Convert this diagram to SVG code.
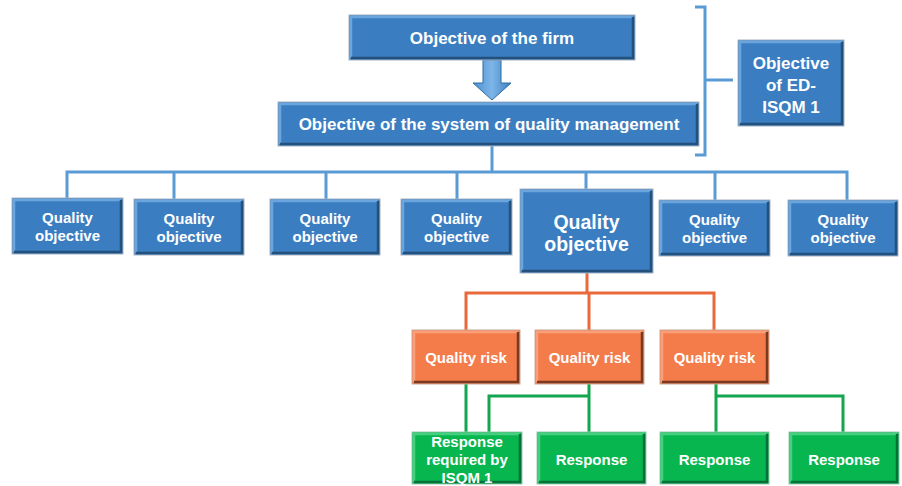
<svg xmlns="http://www.w3.org/2000/svg" width="902" height="486" viewBox="0 0 902 486">
<defs>
<linearGradient id="ag" x1="0" y1="0" x2="1" y2="0">
<stop offset="0" stop-color="#4F90D0"/><stop offset="0.5" stop-color="#7DB6E8"/><stop offset="1" stop-color="#3F80C2"/>
</linearGradient>
</defs>
<style>
text{font-family:"Liberation Sans",Arial,sans-serif;font-weight:bold;fill:#fff;text-anchor:middle}
.bl .f{fill:#3A7EC1;stroke:#A9B4BF;stroke-width:1}
.bl .hi{stroke:#6AA5DD}
.bl .sh{stroke:#24507D}
.or .f{fill:#F47B4A;stroke:#C9A999;stroke-width:1}
.or .hi{stroke:#F9A07A}
.or .sh{stroke:#7A3A22}
.gr .f{fill:#08B650;stroke:#9CC9AE;stroke-width:1}
.gr .hi{stroke:#45D07F}
.gr .sh{stroke:#05703A}
.hi,.sh{fill:none;stroke-width:2.5}
.cb{fill:none;stroke:#5B9BD5;stroke-width:3}
.co{fill:none;stroke:#E9693B;stroke-width:3}
.cg{fill:none;stroke:#14A64E;stroke-width:3}
.t17{font-size:17px}.t15{font-size:15px}.t19{font-size:19.5px}
</style>
<g id="connectors">
<path class="cb" d="M492,146V172M67,198V172H847V200M174,172V199M326,172V199M457,172V199M586,172V189M715,172V200"/>
<path class="cb" d="M695,7H705V155H695M705,80H733" stroke-width="3.5"/>
<polygon points="483,60 501,60 501,83 511,83 492,100 473,83 483,83" fill="url(#ag)" stroke="#2E6DA4" stroke-width="1"/>
<path class="co" d="M587,273V293M466,330V293H714V330M589,293V330"/>
<path class="cg" d="M466,384V432M589,384V432M589,396H489V432M716,384V432M716,396H843V432"/>
</g>
<g id="firm" class="bl"><rect class="f" x="349" y="15" width="286" height="45"/><path class="hi" d="M351,58V17H633"/><path class="sh" d="M351,58H633V17"/><text class="t17" x="492" y="43.5">Objective of the firm</text></g>
<g id="sqm" class="bl"><rect class="f" x="278" y="102" width="421" height="44"/><path class="hi" d="M280,144V104H697"/><path class="sh" d="M280,144H697V104"/><text class="t17" x="489" y="130">Objective of the system of quality management</text></g>
<g id="ed" class="bl"><rect class="f" x="738" y="40" width="106" height="86"/><path class="hi" d="M740,124V42H842"/><path class="sh" d="M740,124H842V42"/><text class="t17" x="791" y="69">Objective</text><text class="t17" x="791" y="91">of ED-</text><text class="t17" x="791" y="113">ISQM 1</text></g>
<g id="qo1" class="bl"><rect class="f" x="12" y="198" width="111" height="56"/><path class="hi" d="M14,252V200H121"/><path class="sh" d="M14,252H121V200"/><text class="t15" x="67.5" y="223">Quality</text><text class="t15" x="67.5" y="241">objective</text></g>
<g id="qo2" class="bl"><rect class="f" x="134" y="199" width="110" height="56"/><path class="hi" d="M136,253V201H242"/><path class="sh" d="M136,253H242V201"/><text class="t15" x="189" y="224">Quality</text><text class="t15" x="189" y="242">objective</text></g>
<g id="qo3" class="bl"><rect class="f" x="270" y="199" width="110" height="56"/><path class="hi" d="M272,253V201H378"/><path class="sh" d="M272,253H378V201"/><text class="t15" x="325" y="224">Quality</text><text class="t15" x="325" y="242">objective</text></g>
<g id="qo4" class="bl"><rect class="f" x="401" y="199" width="111" height="56"/><path class="hi" d="M403,253V201H510"/><path class="sh" d="M403,253H510V201"/><text class="t15" x="456.5" y="224">Quality</text><text class="t15" x="456.5" y="242">objective</text></g>
<g id="qo5" class="bl"><rect class="f" x="520" y="189" width="133" height="84"/><path class="hi" d="M522,271V191H651"/><path class="sh" d="M522,271H651V191"/><text class="t19" x="586.5" y="229">Quality</text><text class="t19" x="586.5" y="251">objective</text></g>
<g id="qo6" class="bl"><rect class="f" x="659" y="200" width="111" height="56"/><path class="hi" d="M661,254V202H768"/><path class="sh" d="M661,254H768V202"/><text class="t15" x="714.5" y="225">Quality</text><text class="t15" x="714.5" y="243">objective</text></g>
<g id="qo7" class="bl"><rect class="f" x="788" y="200" width="110" height="56"/><path class="hi" d="M790,254V202H896"/><path class="sh" d="M790,254H896V202"/><text class="t15" x="843" y="225">Quality</text><text class="t15" x="843" y="243">objective</text></g>
<g id="qr1" class="or"><rect class="f" x="412" y="330" width="108" height="54"/><path class="hi" d="M414,382V332H518"/><path class="sh" d="M414,382H518V332"/><text class="t15" x="466" y="363">Quality risk</text></g>
<g id="qr2" class="or"><rect class="f" x="535" y="330" width="109" height="54"/><path class="hi" d="M537,382V332H642"/><path class="sh" d="M537,382H642V332"/><text class="t15" x="589.5" y="363">Quality risk</text></g>
<g id="qr3" class="or"><rect class="f" x="660" y="330" width="109" height="54"/><path class="hi" d="M662,382V332H767"/><path class="sh" d="M662,382H767V332"/><text class="t15" x="714.5" y="363">Quality risk</text></g>
<g id="rs1" class="gr"><rect class="f" x="412" y="432" width="110" height="52"/><path class="hi" d="M414,482V434H520"/><path class="sh" d="M414,482H520V434"/><text class="t15" x="467" y="447">Response</text><text class="t15" x="467" y="465">required by</text><text class="t15" x="467" y="483">ISQM 1</text></g>
<g id="rs2" class="gr"><rect class="f" x="537" y="432" width="109" height="52"/><path class="hi" d="M539,482V434H644"/><path class="sh" d="M539,482H644V434"/><text class="t15" x="591.5" y="465">Response</text></g>
<g id="rs3" class="gr"><rect class="f" x="660" y="432" width="109" height="52"/><path class="hi" d="M662,482V434H767"/><path class="sh" d="M662,482H767V434"/><text class="t15" x="714.5" y="465">Response</text></g>
<g id="rs4" class="gr"><rect class="f" x="789" y="432" width="110" height="52"/><path class="hi" d="M791,482V434H897"/><path class="sh" d="M791,482H897V434"/><text class="t15" x="844" y="465">Response</text></g>
</svg>
